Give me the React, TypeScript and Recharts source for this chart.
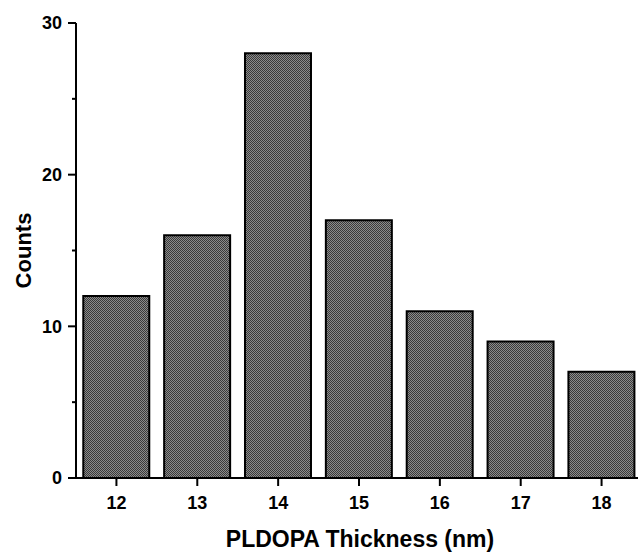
import React from 'react';
import { BarChart, Bar, XAxis, YAxis } from 'recharts';

const categories = ['12', '13', '14', '15', '16', '17', '18'];
const counts = [12, 16, 28, 17, 11, 9, 7];
const yTicks = [0, 5, 10, 15, 20, 25, 30];
const yLabelTicks = [0, 10, 20, 30];
const xTitle = 'PLDOPA Thickness (nm)';
const yTitle = 'Counts';

const data = categories.map((c, i) => ({ label: c, count: counts[i] }));

const FONT = '"Liberation Sans", Arial, sans-serif';

const YTick = (props: any) => {
  const { x, y, payload } = props;
  const major = yLabelTicks.includes(payload.value);
  return (
    <g>
      <line x1={major ? x : x + 4} x2={x + 8} y1={y} y2={y} stroke="#000" strokeWidth={2} />
      {major && (
        <text x={x - 6} y={y} dy="0.36em" textAnchor="end" fontFamily={FONT} fontWeight="bold" fontSize={18} fill="#000">
          {payload.value}
        </text>
      )}
    </g>
  );
};

const YTitle = (props: any) => {
  const { viewBox } = props;
  const cx = viewBox.x + 31;
  const cy = viewBox.y + viewBox.height / 2;
  return (
    <text x={cx} y={cy} transform={`rotate(-90, ${cx}, ${cy})`} textAnchor="middle" fontFamily={FONT} fontWeight="bold" fontSize={22} fill="#000">
      {yTitle}
    </text>
  );
};

const XTitle = (props: any) => {
  const { viewBox } = props;
  const cx = viewBox.x + (638 - viewBox.x) / 2 + 3;
  const cy = viewBox.y + 69;
  return (
    <text x={cx} y={cy} textAnchor="middle" fontFamily={FONT} fontWeight="bold" fontSize={23} fill="#000">
      {xTitle}
    </text>
  );
};

export default function App() {
  return (
    <div style={{ position: 'absolute', left: 0, top: 0, width: 638, height: 553, overflow: 'hidden', background: '#fff' }}>
      <BarChart
        width={642}
        height={553}
        data={data}
        margin={{ top: 23, right: 0, bottom: 0, left: 0 }}
        barCategoryGap="9%"
      >
        <defs>
          <pattern id="hatch" x="0" y="0" width="2" height="2" patternUnits="userSpaceOnUse">
            <rect x="0" y="0" width="2" height="2" fill="#8c8c8c" />
            <rect x="0" y="0" width="1" height="1" fill="#3a3a3a" />
            <rect x="1" y="1" width="1" height="1" fill="#3a3a3a" />
          </pattern>
        </defs>
        <XAxis
          dataKey="label"
          height={75}
          axisLine={{ stroke: '#000', strokeWidth: 2 }}
          tickLine={{ stroke: '#000', strokeWidth: 2 }}
          tickSize={8}
          tickMargin={10}
          tick={{ fontFamily: FONT, fontWeight: 'bold', fontSize: 18, fill: '#000' }}
          interval={0}
          label={<XTitle />}
        />
        <YAxis
          width={76}
          domain={[0, 30]}
          ticks={yTicks}
          interval={0}
          axisLine={{ stroke: '#000', strokeWidth: 2 }}
          tickLine={false}
          tickSize={8}
          tickMargin={0}
          tick={<YTick />}
          label={<YTitle />}
        />
        <Bar dataKey="count" fill="url(#hatch)" stroke="#000" strokeWidth={2} isAnimationActive={false} />
      </BarChart>
    </div>
  );
}
